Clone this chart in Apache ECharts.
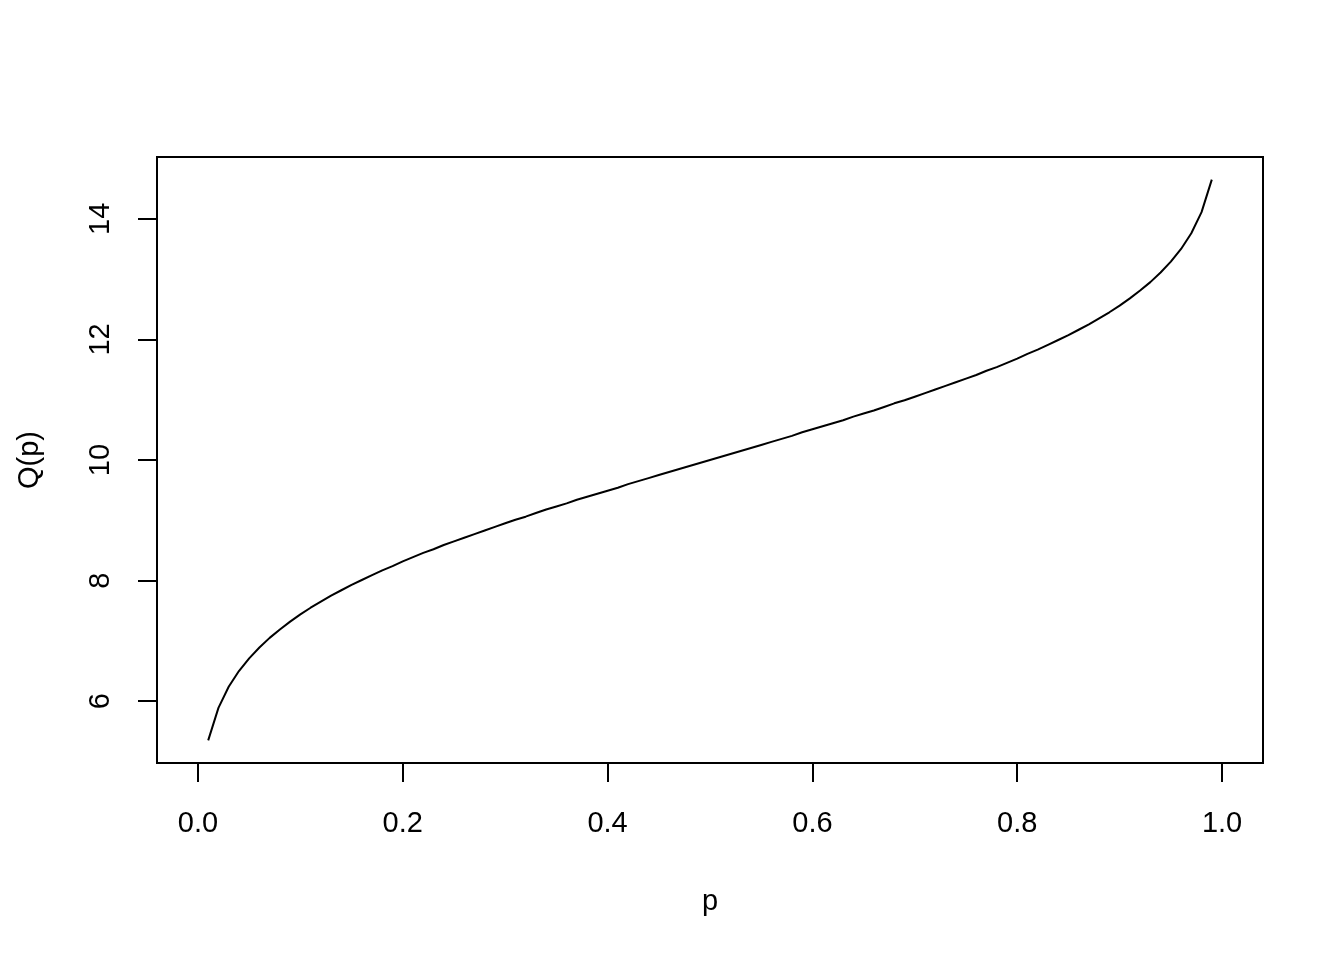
<!DOCTYPE html>
<html>
<head>
<meta charset="utf-8">
<script src="https://cdn.jsdelivr.net/npm/echarts@6/dist/echarts.min.js"></script>
<style>
html,body{margin:0;padding:0;background:#fff;}
#chart{width:1344px;height:960px;}
</style>
</head>
<body>
<div id="chart"></div>
<script>
const pValues = [0.01,0.02,0.03,0.04,0.05,0.06,0.07,0.08,0.09,0.10,
0.11,0.12,0.13,0.14,0.15,0.16,0.17,0.18,0.19,0.20,
0.21,0.22,0.23,0.24,0.25,0.26,0.27,0.28,0.29,0.30,
0.31,0.32,0.33,0.34,0.35,0.36,0.37,0.38,0.39,0.40,
0.41,0.42,0.43,0.44,0.45,0.46,0.47,0.48,0.49,0.50,
0.51,0.52,0.53,0.54,0.55,0.56,0.57,0.58,0.59,0.60,
0.61,0.62,0.63,0.64,0.65,0.66,0.67,0.68,0.69,0.70,
0.71,0.72,0.73,0.74,0.75,0.76,0.77,0.78,0.79,0.80,
0.81,0.82,0.83,0.84,0.85,0.86,0.87,0.88,0.89,0.90,
0.91,0.92,0.93,0.94,0.95,0.96,0.97,0.98,0.99];
const qValues = [5.35,5.89,6.24,6.50,6.71,6.89,7.05,7.19,7.32,7.44,
7.55,7.65,7.75,7.84,7.93,8.01,8.09,8.17,8.24,8.32,
8.39,8.46,8.52,8.59,8.65,8.71,8.77,8.83,8.89,8.95,
9.01,9.06,9.12,9.18,9.23,9.28,9.34,9.39,9.44,9.49,
9.54,9.60,9.65,9.70,9.75,9.80,9.85,9.90,9.95,10.00,
10.05,10.10,10.15,10.20,10.25,10.30,10.35,10.40,10.46,10.51,
10.56,10.61,10.66,10.72,10.77,10.82,10.88,10.94,10.99,11.05,
11.11,11.17,11.23,11.29,11.35,11.41,11.48,11.54,11.61,11.68,
11.76,11.83,11.91,11.99,12.07,12.16,12.25,12.35,12.45,12.56,
12.68,12.81,12.95,13.11,13.29,13.50,13.76,14.11,14.65];
const xTicks = [0, 0.2, 0.4, 0.6, 0.8, 1.0];
const yTicks = [6, 8, 10, 12, 14];
const xLabel = 'p';
const yLabel = 'Q(p)';

const chart = echarts.init(document.getElementById('chart'), null, {renderer:'canvas'});
const font = 'Liberation Sans, Arial, Helvetica, sans-serif';
chart.setOption({
  animation:false,
  backgroundColor:'#ffffff',
  grid:{left:157, right:81, top:157, bottom:197, show:true, borderColor:'#000', borderWidth:2, backgroundColor:'transparent'},
  xAxis:{
    type:'value', min:-0.04, max:1.04,
    name:xLabel, nameLocation:'middle', nameGap:124,
    nameTextStyle:{color:'#000', fontSize:29, fontFamily:font},
    axisLine:{show:false, onZero:false},
    splitLine:{show:false},
    axisTick:{show:true, customValues:xTicks, length:19, inside:false, lineStyle:{color:'#000', width:2}},
    axisLabel:{show:true, customValues:xTicks, margin:46, color:'#000', fontSize:29, fontFamily:font,
      formatter:v=>v.toFixed(1)}
  },
  yAxis:{
    type:'value', min:4.975, max:15.025,
    name:yLabel, nameLocation:'middle', nameGap:113, nameRotate:90,
    nameTextStyle:{color:'#000', fontSize:29, fontFamily:font},
    axisLine:{show:false, onZero:false},
    splitLine:{show:false},
    axisTick:{show:true, customValues:yTicks, length:19, lineStyle:{color:'#000', width:2}},
    axisLabel:{show:true, customValues:yTicks, margin:42, rotate:90, color:'#000', fontSize:29, fontFamily:font,
      formatter:v=>String(v)}
  },
  series:[{
    type:'line',
    data:pValues.map((p,i)=>[p, qValues[i]]),
    showSymbol:false,
    symbol:'none',
    lineStyle:{color:'#000', width:2},
    silent:true
  }]
});
</script>
</body>
</html>
